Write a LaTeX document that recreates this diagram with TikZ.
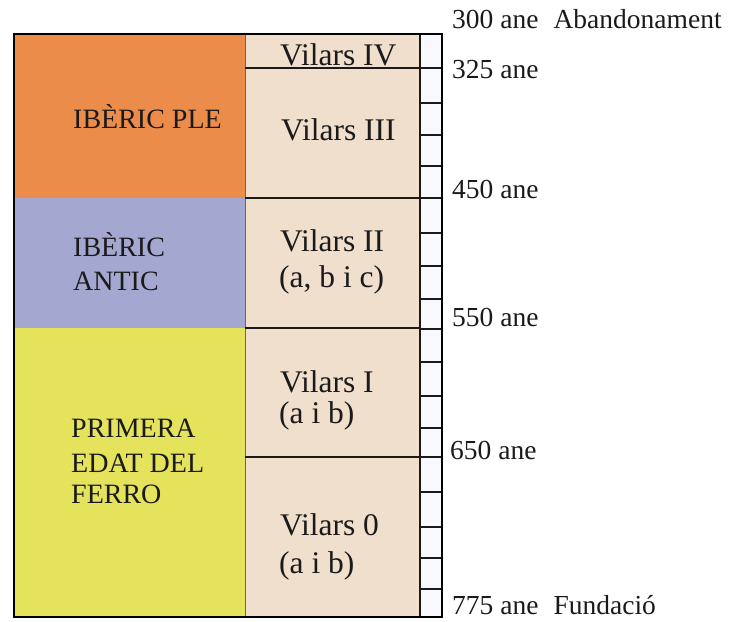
\documentclass[tikz,border=0pt]{standalone}
\usepackage{fontspec}
\setmainfont{Liberation Serif}
\definecolor{orng}{HTML}{EB8C4B}
\definecolor{lav}{HTML}{A4A7CF}
\definecolor{yel}{HTML}{E5E25C}
\definecolor{beige}{HTML}{F1DFCD}
\definecolor{scalebg}{HTML}{F7F9FC}
\definecolor{ink}{HTML}{1A1A1A}
\begin{document}
\begin{tikzpicture}[x=1pt,y=-1pt,
  big/.style={anchor=base west,inner sep=0pt,font=\fontsize{31.5}{36}\selectfont,text=ink},
  lab/.style={anchor=base west,inner sep=0pt,font=\fontsize{28}{32}\selectfont,text=ink},
  yr/.style={anchor=base west,inner sep=0pt,font=\fontsize{27.5}{32}\selectfont,text=ink},
  sep/.style={draw=ink,line width=1.3pt},
  tick/.style={draw=ink,line width=1.4pt}]
\useasboundingbox (0,0) rectangle (730,621);
% fills
\fill[orng] (14,34) rectangle (245,198);
\fill[lav] (14,198) rectangle (245,328);
\fill[yel] (14,328) rectangle (245,617);
\fill[beige] (245,34) rectangle (420,617);
\fill[scalebg] (420,34) rectangle (442,617);
% inner lines
\draw[draw=black!60,line width=0.6pt] (245,34) -- (245,617);
\foreach \yy in {68,198,328,457} \draw[sep] (245,\yy) -- (420,\yy);
\draw[sep] (420,34) -- (420,617);
\foreach \yy in {68,103,135,166,198,233,266,299,329,362,396,428,457,492,527,558,589}
  \draw[tick] (420,\yy) -- (442,\yy);
% outer frame
\draw[draw=black,line width=2.6pt] (14,34) rectangle (442,617);
% left labels
\node[lab] (ple) at (73,128) {IBÈRIC PLE};
\node[lab] (ant1) at (73,256) {IBÈRIC};
\node[lab] (ant2) at (73,290.5) {ANTIC};
\node[lab] (fe1) at (71,437) {PRIMERA};
\node[lab] (fe2) at (71,472) {EDAT DEL};
\node[lab] (fe3) at (71,503) {FERRO};
% middle labels
\node[big] (v4) at (280,65) {Vilars IV};
\node[big] (v3) at (281,140) {Vilars III};
\node[big] (v2a) at (280,251) {Vilars II};
\node[big] (v2b) at (279,287) {(a, b i c)};
\node[big] (v1a) at (280,392) {Vilars I};
\node[big] (v1b) at (279,423) {(a i b)};
\node[big] (v0a) at (280,535) {Vilars 0};
\node[big] (v0b) at (279,573) {(a i b)};
% year labels
\node[yr] (y300) at (452,28) {300 ane\hspace{0.55em}Abandonament};
\node[yr] (y325) at (452,78) {325 ane};
\node[yr] (y450) at (452,198) {450 ane};
\node[yr] (y550) at (452,326) {550 ane};
\node[yr] (y650) at (450,459) {650 ane};
\node[yr] (y775) at (452,614) {775 ane\hspace{0.55em}Fundació};
\end{tikzpicture}
\end{document}
